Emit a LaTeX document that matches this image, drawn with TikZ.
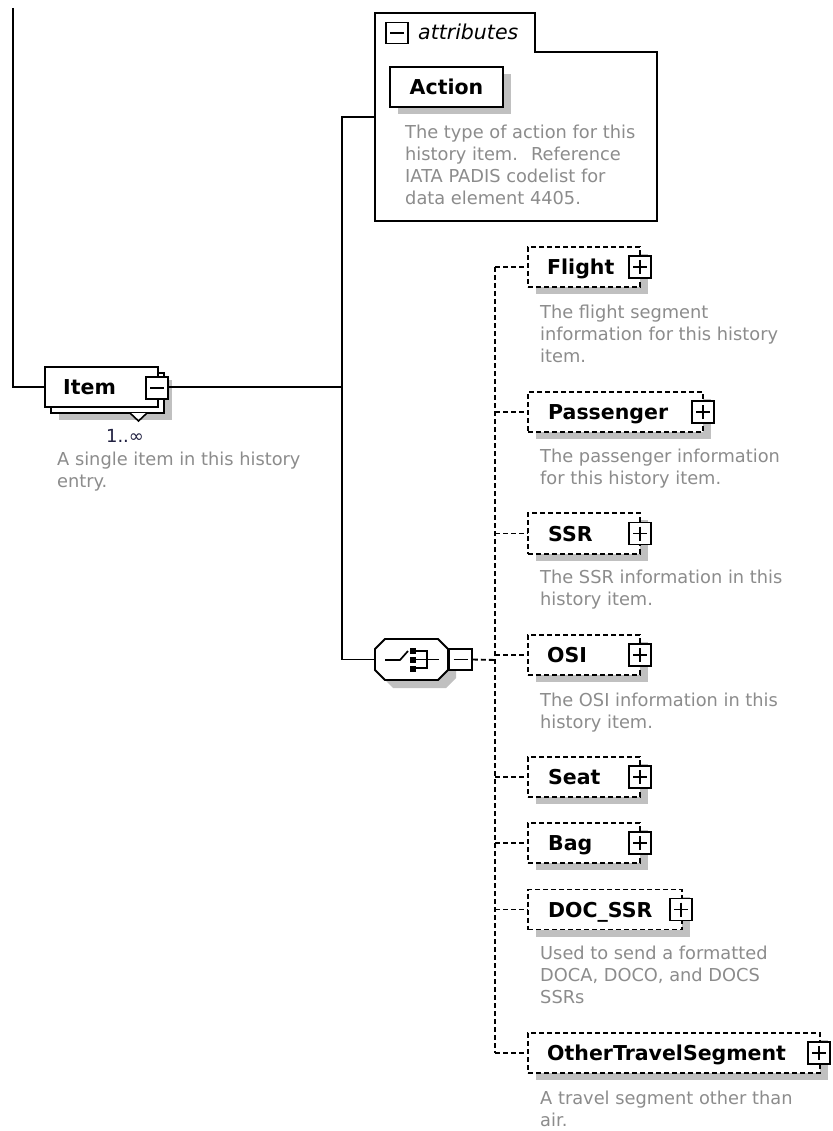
\documentclass[tikz,border=0pt]{standalone}
\usepackage{fontspec}
\setmainfont{DejaVu Sans}
\usetikzlibrary{shadows,calc}
\definecolor{descgray}{HTML}{8C8C8C}
\definecolor{shgray}{HTML}{C0C0C0}
\definecolor{cardcol}{HTML}{202040}
\tikzset{
  conn/.style={line width=1.9pt},
  dconn/.style={line width=1.9pt, dash pattern=on 5pt off 3pt},
  shadowed/.style={drop shadow={shadow xshift=8pt, shadow yshift=-7pt, fill=shgray, opacity=1}},
  elem/.style={draw, line width=1.9pt, dash pattern=on 5pt off 3pt, fill=white, shadowed, inner sep=0, minimum height=40pt},
  solidbox/.style={draw, line width=1.9pt, fill=white, inner sep=0, minimum height=40pt},
  pm/.style={draw, line width=1.8pt, fill=white, minimum width=22pt, minimum height=22pt, inner sep=0},
  sign/.style={line width=1.8pt},
  lbl/.style={font=\fontsize{20.5}{24}\selectfont\bfseries, anchor=base west, inner sep=0},
  desc/.style={font=\fontsize{17.8}{22}\selectfont, text=descgray, anchor=north west, inner sep=0, align=left},
}
\newcommand\plussign[1]{\draw[sign] ($(#1.center)+(-7,0)$) -- ($(#1.center)+(7,0)$); \draw[sign] ($(#1.center)+(0,-7)$) -- ($(#1.center)+(0,7)$);}
\newcommand\minussign[1]{\draw[sign] ($(#1.center)+(-7,0)$) -- ($(#1.center)+(7,0)$);}
\begin{document}
\begin{tikzpicture}[x=1pt,y=-1pt]
\useasboundingbox[fill=white] (0,0) rectangle (832,1131);

% ---------- Item ----------
\node[solidbox, shadowed, minimum width=113pt] (itemback) at (107.5,393) {};
\node[solidbox, minimum width=113pt] (item) at (101.5,387) {};
\node[lbl] (itemlbl) at (63,394.5) {Item};
\node[pm] (itempm) at (157,388) {};
\minussign{itempm}
\draw[line width=1.6pt, fill=white] (130,413) -- (138.5,421) -- (147,413);
\node[font=\fontsize{18}{22}\selectfont, text=cardcol, inner sep=0] (card) at (125,436) {1..∞};
\node[desc] (itemdesc) at (57,450.1) {\strut A single item in this history\\entry.};

% ---------- attributes ----------
\coordinate (attrin) at (375,117);
\draw[line width=1.9pt, fill=white] (375,13) -- (535,13) -- (535,52) -- (657,52) -- (657,221) -- (375,221) -- cycle;
\node[pm, minimum height=21pt] (attrpm) at (397,33) {};
\minussign{attrpm}
\node[font=\fontsize{20.5}{24}\selectfont\itshape, anchor=base west, inner sep=0] (attrlbl) at (418,40) {attributes};
\node[solidbox, shadowed, minimum width=113pt] (action) at (446.5,87) {};
\node[lbl, anchor=center, text height=15pt, text depth=0pt] (actionlbl) at (446.5,87) {Action};
\node[desc] (actiondesc) at (405,123.1) {\strut The type of action for this\\history item.~ Reference\\IATA PADIS codelist for\\data element 4405.};

% ---------- choice ----------
\node[minimum width=73pt, minimum height=41pt, inner sep=0] (choice) at (411.5,659.5) {};
\fill[shgray] (393,647) -- (446,647) -- (456,657) -- (456,678) -- (446,688) -- (393,688) -- (383,678) -- (383,657) -- cycle;
\draw[line width=1.9pt, fill=white] (385,639) -- (438,639) -- (448,649) -- (448,670) -- (438,680) -- (385,680) -- (375,670) -- (375,649) -- cycle;
\draw[line width=1.7pt] (385,660) -- (400,660) -- (408,651);
\fill (409.5,647.5) rectangle (415.5,653.5);
\fill (409.5,656.5) rectangle (415.5,662.5);
\fill (409.5,665.5) rectangle (415.5,671.5);
\draw[line width=1.7pt] (415,651) -- (427,651) -- (427,668) -- (415,668);
\draw[line width=1.7pt] (415,659.5) -- (439,659.5);
\node[pm, minimum width=23pt, minimum height=21pt] (choicepm) at (460.5,659.5) {};
\minussign{choicepm}

% ---------- children ----------
\node[elem, minimum width=112pt] (flight) at (584,267) {};
\node[lbl] at (547,274.5) {Flight};
\node[pm] (flightpm) at (640,267) {};
\plussign{flightpm}
\node[desc] at (540,303.1) {\strut The flight segment\\information for this history\\item.};

\node[elem, minimum width=175pt] (passenger) at (615.5,412) {};
\node[lbl] at (548,419.5) {Passenger};
\node[pm] (passengerpm) at (703,412) {};
\plussign{passengerpm}
\node[desc] at (540,447.1) {\strut The passenger information\\for this history item.};

\node[elem, minimum width=112pt, minimum height=41pt] (ssr) at (584,533.5) {};
\node[lbl] at (548,541) {SSR};
\node[pm] (ssrpm) at (640,533.5) {};
\plussign{ssrpm}
\node[desc] at (540,568.1) {\strut The SSR information in this\\history item.};

\node[elem, minimum width=112pt] (osi) at (584,655) {};
\node[lbl] at (547,662.5) {OSI};
\node[pm] (osipm) at (640,655) {};
\plussign{osipm}
\node[desc] at (540,691.1) {\strut The OSI information in this\\history item.};

\node[elem, minimum width=112pt] (seat) at (584,777) {};
\node[lbl] at (548,784.5) {Seat};
\node[pm] (seatpm) at (640,777) {};
\plussign{seatpm}

\node[elem, minimum width=112pt] (bag) at (584,843) {};
\node[lbl] at (548,850.5) {Bag};
\node[pm] (bagpm) at (640,843) {};
\plussign{bagpm}

\node[elem, minimum width=154pt] (docssr) at (605,909.5) {};
\node[lbl] at (548,917) {DOC\_SSR};
\node[pm] (docssrpm) at (681,909.5) {};
\plussign{docssrpm}
\node[desc] at (540,944.1) {\strut Used to send a formatted\\DOCA, DOCO, and DOCS\\SSRs};

\node[elem, minimum width=292pt] (ots) at (674,1053) {};
\node[lbl] at (547,1060.5) {OtherTravelSegment};
\node[pm] (otspm) at (819,1053) {};
\plussign{otspm}
\node[desc] at (540,1089.1) {\strut A travel segment other than\\air.};

% ---------- connectors ----------
\coordinate (top) at (13,8);
\coordinate (j) at (342,387);
\coordinate (sj) at (495,660);
\draw[conn] (top) |- (item.west);
\draw[conn] (itempm.east |- j) -- (j);
\draw[conn] (attrin) -| (j) |- (choice.west);
\draw[dconn] (choicepm.east) -- (sj);
\draw[dconn] (sj |- flight.west) -- (sj |- ots.west);
\foreach \n in {flight,passenger,ssr,osi,seat,bag,docssr,ots}{
  \draw[dconn] (sj |- \n.west) -- (\n.west);
}
\end{tikzpicture}
\end{document}
